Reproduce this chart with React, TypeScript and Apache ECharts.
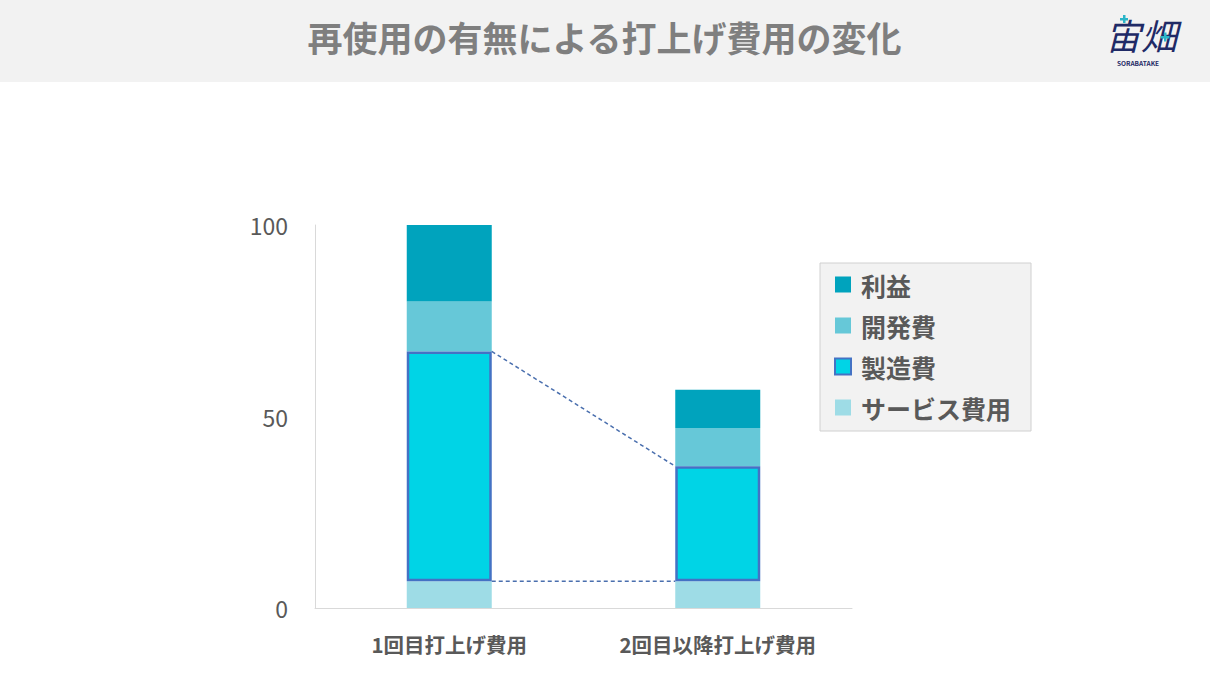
import React, { useEffect, useRef } from "react";
import * as echarts from "echarts";

const categories = ["1回目打上げ費用", "2回目以降打上げ費用"];
const serviceCost = [7, 7];
const manufacturingCost = [60, 30];
const developmentCost = [13, 10];
const profit = [20, 10];
const yTicks = [0, 50, 100];

const FONT = "'Noto Sans CJK JP', 'Noto Sans', sans-serif";

export default function App() {
  const ref = useRef<HTMLDivElement>(null);
  useEffect(() => {
    document.body.style.margin = "0";
    const chart = echarts.init(ref.current!, null, { renderer: "svg" });
    const manuTop = categories.map((_, i) => serviceCost[i] + manufacturingCost[i]);
    const connectors = [
      [0, manuTop[0], 1, manuTop[1]],
      [0, serviceCost[0], 1, serviceCost[1]],
    ];
    const cross = (x: number, y: number, s: number) => [
      { type: "rect", left: x - s / 2, top: y - 1, shape: { width: s, height: 2.5 }, style: { fill: "#2bb5c8" } },
      { type: "rect", left: x - 1, top: y - s / 2, shape: { width: 2.5, height: s }, style: { fill: "#2bb5c8" } },
    ];
    chart.setOption({
      animation: false,
      backgroundColor: "#ffffff",
      textStyle: { fontFamily: FONT },
      graphic: [
        { type: "rect", left: 0, top: 0, shape: { width: 1210, height: 82 }, style: { fill: "#f2f2f2" }, z: -1 },
        {
          type: "text",
          left: "center",
          top: 19,
          style: { text: "再使用の有無による打上げ費用の変化", fontSize: 35, fontWeight: "bold", fill: "#7f7f7f", fontFamily: FONT },
        },
        {
          type: "text",
          left: 1105,
          top: 15,
          style: { text: "宙畑", fontSize: 36, lineHeight: 38, fontStyle: "italic", fontWeight: "normal", fill: "#1f2a66", fontFamily: FONT },
        },
        ...cross(1124, 19, 8),
        ...cross(1165, 37, 9),
        {
          type: "text",
          left: 1117,
          top: 59,
          style: { text: "SORABATAKE", fontSize: 6.5, lineHeight: 8, fontWeight: "bold", fill: "#1f2a66", fontFamily: FONT },
        },
      ],
      grid: { left: 315, right: 358, top: 225, bottom: 72, containLabel: false },
      legend: {
        orient: "vertical",
        left: 820,
        top: 263,
        width: 210,
        backgroundColor: "#f2f2f2",
        borderColor: "#d0d0d0",
        borderWidth: 1,
        padding: [9, 20, 11, 14],
        itemWidth: 16,
        itemHeight: 16,
        itemGap: 16,
        icon: "rect",
        data: ["利益", "開発費", "製造費", "サービス費用"],
        textStyle: { fontSize: 25, fontWeight: "bold", color: "#595959", fontFamily: FONT, padding: [0, 0, 0, 5] },
      },
      xAxis: {
        type: "category",
        data: categories,
        axisLine: { show: true, lineStyle: { color: "#d9d9d9", width: 1 } },
        axisTick: { show: false },
        axisLabel: { fontSize: 20.5, fontWeight: "bold", color: "#595959", margin: 26, fontFamily: FONT },
      },
      yAxis: {
        type: "value",
        min: yTicks[0],
        max: yTicks[yTicks.length - 1],
        interval: yTicks[1] - yTicks[0],
        axisLine: { show: true, lineStyle: { color: "#d9d9d9", width: 1 } },
        axisTick: { show: false },
        splitLine: { show: false },
        axisLabel: { fontSize: 23, color: "#595959", margin: 27, fontFamily: FONT },
      },
      series: [
        {
          name: "サービス費用",
          type: "bar",
          stack: "total",
          barWidth: 85,
          data: serviceCost,
          itemStyle: { color: "#9edce6" },
        },
        {
          name: "製造費",
          type: "bar",
          stack: "total",
          barWidth: 85,
          data: manufacturingCost,
          itemStyle: { color: "#00d4e6", borderColor: "#4472c4", borderWidth: 2.5 },
          z: 3,
        },
        {
          name: "開発費",
          type: "bar",
          stack: "total",
          barWidth: 85,
          data: developmentCost,
          itemStyle: { color: "#66c8d8" },
        },
        {
          name: "利益",
          type: "bar",
          stack: "total",
          barWidth: 85,
          data: profit,
          itemStyle: { color: "#00a3bd" },
        },
        {
          name: "connectors",
          type: "custom",
          data: connectors,
          encode: { x: 0, y: 1 },
          z: 5,
          silent: true,
          renderItem: (params: any, api: any) => {
            const p1 = api.coord([api.value(0), api.value(1)]);
            const p2 = api.coord([api.value(2), api.value(3)]);
            const half = 42.5;
            return {
              type: "line",
              shape: { x1: p1[0] + half, y1: p1[1], x2: p2[0] - half, y2: p2[1] },
              style: { stroke: "#4a6fae", lineWidth: 1.5, lineDash: [4, 3] },
            };
          },
        },
      ],
    });
    return () => chart.dispose();
  }, []);
  return <div ref={ref} style={{ position: "absolute", left: 0, top: 0, width: 1210, height: 680 }} />;
}
